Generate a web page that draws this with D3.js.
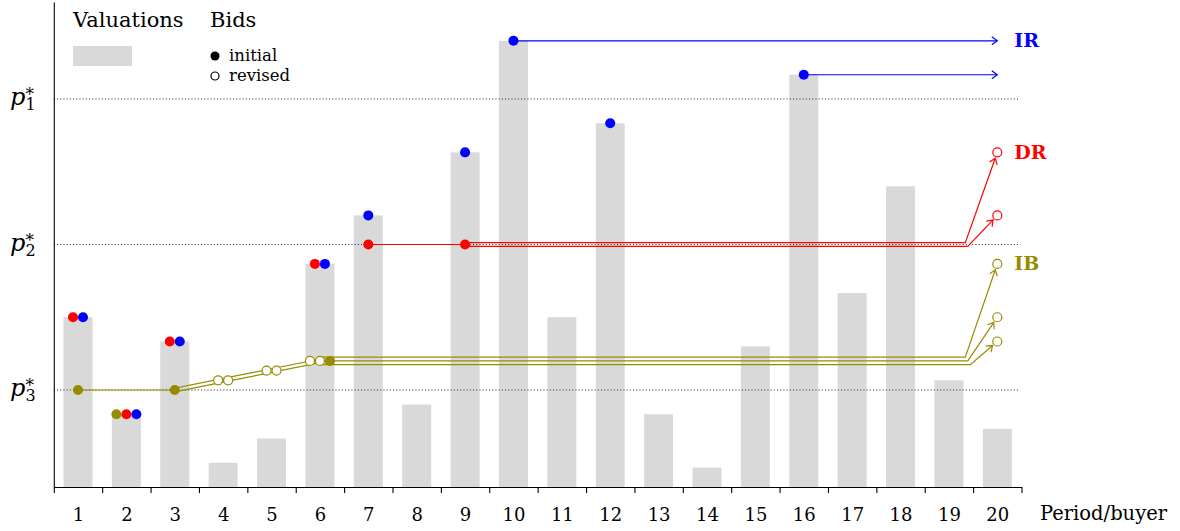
<!DOCTYPE html>
<html>
<head>
<meta charset="utf-8">
<script src="https://cdn.jsdelivr.net/npm/d3@7"></script>
<style>
  body { margin: 0; background: #fff; }
  svg { display: block; }
</style>
</head>
<body>
<svg id="chart" width="1180" height="531"></svg>
<script>
// ---- data ----
const periods = d3.range(1, 21);
const valuations = [3.5, 1.5, 3.0, 0.5, 1.0, 4.6, 5.6, 1.7, 6.9, 9.2, 3.5, 7.5, 1.5, 0.4, 2.9, 8.5, 4.0, 6.2, 2.2, 1.2];

const thresholdNames = ["1", "2", "3"];
const thresholdValues = [8, 5, 2];

const mechanisms = ["IB", "DR", "IR"];
const mechColors = { IB: "#978c00", DR: "#ff0000", IR: "#0000ff" };

// initial bids: [mechanism, period, bid]
const initialBids = [
  ["IB", 1, 2.0], ["DR", 1, 3.5], ["IR", 1, 3.5],
  ["IB", 2, 1.5], ["DR", 2, 1.5], ["IR", 2, 1.5],
  ["IB", 3, 2.0], ["DR", 3, 3.0], ["IR", 3, 3.0],
  ["IB", 6, 2.6], ["DR", 6, 4.6], ["IR", 6, 4.6],
  ["DR", 7, 5.0], ["IR", 7, 5.6],
  ["DR", 9, 5.0], ["IR", 9, 6.9],
  ["IR", 10, 9.2], ["IR", 12, 7.5], ["IR", 16, 8.5]
];

// standing bidders: [period, bid] steps, final revised bid (null = kept), lane order
const standingBidders = [
  { mech: "IR", lane: 0, steps: [[10, 9.2]], revised: null },
  { mech: "IR", lane: 1, steps: [[16, 8.5]], revised: null },
  { mech: "DR", lane: 0, steps: [[7, 5.0], [9, 5.0]], revised: 6.9 },
  { mech: "DR", lane: 1, steps: [[9, 5.0]], revised: 5.6 },
  { mech: "IB", lane: 0, steps: [[1, 2.0], [3, 2.0], [4, 2.2], [5, 2.4], [6, 2.6]], revised: 4.6 },
  { mech: "IB", lane: 1, steps: [[6, 2.6]], revised: 3.5 },
  { mech: "IB", lane: 2, steps: [[3, 2.0], [4, 2.2], [5, 2.4], [6, 2.6]], revised: 3.0 }
];

// ---- setup ----
const svg = d3.select("#chart");
const serif = "'DejaVu Serif', 'Liberation Serif', serif";

const x = d3.scaleLinear().domain([0.5, 20.5]).range([53.8, 1021.5]);
const y = d3.scaleLinear().domain([0, 10]).range([487, 2]);
const barW = 29;
const dotR = 5;
const laneGap = 3.7;

// bars
svg.append("g").selectAll("rect")
  .data(periods)
  .join("rect")
  .attr("x", p => x(p) - barW / 2)
  .attr("y", p => y(valuations[p - 1]))
  .attr("width", barW)
  .attr("height", p => y(0) - y(valuations[p - 1]))
  .attr("fill", "#d9d9d9");

// threshold lines
svg.append("g").selectAll("line")
  .data(thresholdValues)
  .join("line")
  .attr("x1", x(0.5)).attr("x2", x(20.45))
  .attr("y1", v => y(v)).attr("y2", v => y(v))
  .attr("stroke", "#222")
  .attr("stroke-width", 1)
  .attr("stroke-dasharray", "1,2.2");

// axes
const xTicks = svg.append("g")
  .attr("transform", `translate(0,${y(0)})`)
  .call(d3.axisBottom(x).tickValues(d3.range(0.5, 20.6, 1)).tickSize(6).tickSizeOuter(0).tickFormat(""));
xTicks.selectAll("path, line").attr("stroke", "#000").attr("stroke-width", 1.1);

const xLabels = svg.append("g")
  .attr("transform", `translate(0,${y(0)})`)
  .call(d3.axisBottom(x).tickValues(periods).tickSize(0).tickPadding(21).tickFormat(d3.format("d")));
xLabels.select(".domain").remove();
xLabels.selectAll("text")
  .attr("font-family", serif)
  .attr("font-size", 18)
  .attr("fill", "#000");

const yAxis = svg.append("g")
  .attr("transform", `translate(${x(0.5)},0)`)
  .call(d3.axisLeft(y).tickValues([]).tickSizeOuter(0));
yAxis.select(".domain").attr("stroke", "#000").attr("stroke-width", 1.1);

svg.append("text")
  .attr("x", 1040).attr("y", 520)
  .attr("font-family", serif).attr("font-size", 19.5)
  .text("Period/buyer");

// threshold labels p_k^*
thresholdValues.forEach((v, i) => {
  const t = svg.append("text")
    .attr("x", 10).attr("y", y(v) + 6)
    .attr("font-family", serif);
  t.append("tspan").attr("font-size", 24).attr("font-style", "italic").text("p");
  t.append("tspan").attr("font-size", 16).attr("dy", 5).text(thresholdNames[i]);
  t.append("tspan").attr("font-size", 17).attr("dx", -10).attr("dy", -10).text("*");
});

// ---- lines of standing bids ----
function laneRank(b, period) {
  const active = standingBidders
    .filter(o => o.mech === b.mech && o.steps[0][0] <= period)
    .sort((a, c) => a.lane - c.lane);
  return { rank: active.indexOf(b), n: active.length };
}
function laneOffset(b, period) {
  const { rank, n } = laneRank(b, period);
  return (rank - (n - 1) / 2) * laneGap;
}
function arrowHead(tx, ty, ux, uy, len, half) {
  const nx = -uy, ny = ux;
  return `M${tx - len * ux + half * nx},${ty - len * uy + half * ny}L${tx},${ty}L${tx - len * ux - half * nx},${ty - len * uy - half * ny}`;
}

const lineG = svg.append("g").attr("fill", "none");
standingBidders.forEach(b => {
  const color = mechColors[b.mech];
  const pts = [];
  for (let i = 0; i < b.steps.length - 1; i++) {
    const off = laneOffset(b, b.steps[i][0]);
    pts.push([x(b.steps[i][0]), y(b.steps[i][1]) + off]);
    pts.push([x(b.steps[i + 1][0]), y(b.steps[i + 1][1]) + off]);
  }
  const last = b.steps[b.steps.length - 1];
  const off = laneOffset(b, last[0]);
  let tip, from;
  if (b.revised === null) {
    from = [x(last[0]), y(last[1])];
    pts.push(from);
    tip = [x(20), y(last[1])];
    pts.push(tip);
  } else {
    const { rank } = laneRank(b, last[0]);
    const bendX = x(20) - 32 + rank * 2.5;
    pts.push([x(last[0]), y(last[1]) + off]);
    from = [bendX, y(last[1]) + off];
    pts.push(from);
    const cx = x(20), cy = y(b.revised);
    const dx = cx - from[0], dy = cy - from[1];
    const d = Math.hypot(dx, dy);
    tip = [cx - dx / d * (dotR + 1.2), cy - dy / d * (dotR + 1.2)];
    pts.push(tip);
  }
  lineG.append("path")
    .attr("d", d3.line()(pts))
    .attr("stroke", color)
    .attr("stroke-width", 1.2)
    .attr("stroke-linejoin", "miter");
  const dx = tip[0] - from[0], dy = tip[1] - from[1];
  const d = Math.hypot(dx, dy);
  lineG.append("path")
    .attr("d", arrowHead(tip[0], tip[1], dx / d, dy / d, 5.5, 4))
    .attr("stroke", color)
    .attr("stroke-width", 1.2);
});

// ---- bid markers ----
const markers = [];
initialBids.forEach(([m, p, v]) => markers.push({ mech: m, period: p, value: v, kind: "initial" }));
standingBidders.forEach(b => b.steps.forEach((s, i) => {
  if (i > 0 && s[1] !== b.steps[i - 1][1]) {
    markers.push({ mech: b.mech, period: s[0], value: s[1], kind: "revised" });
  }
}));
const order = m => mechanisms.indexOf(m.mech) * 2 + (m.kind === "initial" ? 1 : 0);
const groups = d3.group(markers, m => `${m.period}|${m.value}`);
groups.forEach(list => {
  list.sort((a, b) => order(a) - order(b));
  list.forEach((m, i) => { m.dx = (i - (list.length - 1) / 2) * 10; });
});

svg.append("g").selectAll("circle")
  .data(markers)
  .join("circle")
  .attr("cx", m => x(m.period) + m.dx)
  .attr("cy", m => y(m.value))
  .attr("r", m => m.kind === "initial" ? dotR : dotR - 0.5)
  .attr("fill", m => m.kind === "initial" ? mechColors[m.mech] : "#fff")
  .attr("stroke", m => m.kind === "initial" ? "none" : mechColors[m.mech])
  .attr("stroke-width", 1.2);

// final revised bids
svg.append("g").selectAll("circle")
  .data(standingBidders.filter(b => b.revised !== null))
  .join("circle")
  .attr("cx", x(20))
  .attr("cy", b => y(b.revised))
  .attr("r", dotR - 0.5)
  .attr("fill", "#fff")
  .attr("stroke", b => mechColors[b.mech])
  .attr("stroke-width", 1.2);

// mechanism labels
mechanisms.forEach(m => {
  const top = d3.max(standingBidders.filter(b => b.mech === m),
    b => b.revised === null ? b.steps[b.steps.length - 1][1] : b.revised);
  svg.append("text")
    .attr("x", x(20) + 17).attr("y", y(top) + 6.5)
    .attr("font-family", serif).attr("font-size", 19).attr("font-weight", "bold")
    .attr("fill", mechColors[m])
    .text(m);
});

// ---- legend ----
const legend = svg.append("g").attr("font-family", serif);
legend.append("text").attr("x", 73).attr("y", 27).attr("font-size", 21).text("Valuations");
legend.append("text").attr("x", 210).attr("y", 27).attr("font-size", 21).text("Bids");
legend.append("rect").attr("x", 73).attr("y", 46).attr("width", 59).attr("height", 20).attr("fill", "#d9d9d9");
legend.append("circle").attr("cx", 215).attr("cy", 56).attr("r", 4.5).attr("fill", "#000");
legend.append("circle").attr("cx", 215).attr("cy", 76).attr("r", 4).attr("fill", "#fff").attr("stroke", "#000").attr("stroke-width", 1.2);
legend.append("text").attr("x", 229).attr("y", 61).attr("font-size", 16.5).text("initial");
legend.append("text").attr("x", 229).attr("y", 81).attr("font-size", 16.5).text("revised");
</script>
</body>
</html>
